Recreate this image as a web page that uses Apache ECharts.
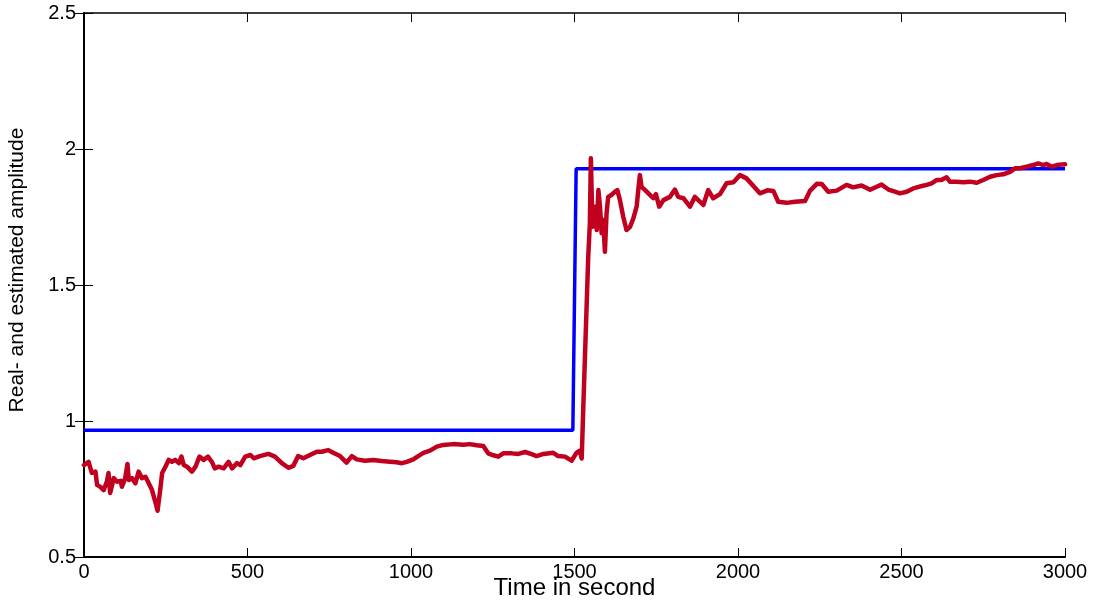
<!DOCTYPE html>
<html>
<head>
<meta charset="utf-8">
<title>Real- and estimated amplitude</title>
<script src="https://cdn.jsdelivr.net/npm/echarts@6/dist/echarts.min.js"></script>
<style>
  html, body { margin: 0; padding: 0; background: #fff; }
  #chart { width: 1098px; height: 602px; }
</style>
</head>
<body>
<div id="chart"></div>
<script>
// Axis ranges and ticks
const xTicks = [0, 500, 1000, 1500, 2000, 2500, 3000];
const yTicks = [0.5, 1, 1.5, 2, 2.5];

// Real amplitude: a step at t ≈ 1500 s
const realAmplitude = [[0, 0.966], [1495, 0.966], [1505, 1.927], [3000, 1.927]];

// Estimated amplitude [time (s), amplitude]
const estimatedAmplitude = [
  [0,0.838],[14,0.85],[24,0.809],[35,0.814],[40,0.765],[50,0.758],[60,0.746],[70,0.777],[75,0.809],[80,0.735],
  [91,0.79],[101,0.777],[112,0.78],[116,0.758],[126,0.79],[133,0.842],[137,0.783],[147,0.79],[157,0.771],[167,0.814],
  [177,0.79],[188,0.795],[198,0.771],[208,0.746],[218,0.703],[225,0.67],[233,0.746],[239,0.809],[249,0.832],[259,0.857],
  [269,0.85],[279,0.857],[290,0.845],[298,0.869],[305,0.838],[315,0.832],[330,0.814],[341,0.832],[353,0.869],[366,0.857],
  [379,0.869],[391,0.85],[400,0.826],[412,0.832],[427,0.826],[442,0.85],[453,0.826],[468,0.845],[478,0.838],[493,0.869],
  [509,0.875],[519,0.863],[538,0.871],[564,0.879],[584,0.869],[605,0.845],[625,0.828],[640,0.835],[655,0.871],[671,0.863],
  [691,0.875],[712,0.887],[727,0.887],[747,0.893],[762,0.883],[783,0.871],[803,0.847],[819,0.871],[834,0.859],[859,0.854],
  [885,0.857],[910,0.853],[936,0.85],[956,0.848],[972,0.845],[987,0.85],[1007,0.859],[1022,0.871],[1038,0.883],[1058,0.891],
  [1079,0.906],[1099,0.912],[1129,0.915],[1160,0.913],[1180,0.915],[1201,0.911],[1221,0.908],[1236,0.881],[1252,0.874],[1267,0.869],
  [1282,0.881],[1308,0.881],[1328,0.879],[1349,0.886],[1369,0.878],[1384,0.871],[1405,0.879],[1435,0.883],[1450,0.871],[1471,0.869],
  [1491,0.854],[1506,0.883],[1516,0.891],[1522,0.862],[1527,1.053],[1537,1.42],[1542,1.604],[1547,1.727],[1550,1.966],[1555,1.714],
  [1563,1.788],[1568,1.702],[1573,1.849],[1578,1.788],[1583,1.69],[1588,1.739],[1593,1.622],[1598,1.763],[1603,1.824],[1613,1.831],
  [1624,1.843],[1631,1.849],[1639,1.812],[1649,1.751],[1659,1.702],[1670,1.714],[1680,1.745],[1690,1.788],[1695,1.849],[1700,1.904],
  [1705,1.861],[1716,1.849],[1726,1.837],[1741,1.819],[1749,1.834],[1759,1.788],[1772,1.812],[1792,1.824],[1807,1.851],[1817,1.824],
  [1833,1.819],[1853,1.788],[1868,1.824],[1884,1.806],[1894,1.794],[1909,1.849],[1924,1.819],[1945,1.834],[1965,1.874],[1986,1.878],
  [2006,1.904],[2026,1.892],[2047,1.864],[2067,1.837],[2090,1.848],[2108,1.846],[2123,1.806],[2149,1.802],[2174,1.806],[2205,1.809],
  [2220,1.846],[2241,1.872],[2256,1.871],[2276,1.843],[2302,1.847],[2332,1.868],[2352,1.859],[2378,1.866],[2404,1.85],[2424,1.861],
  [2439,1.869],[2460,1.851],[2480,1.843],[2495,1.837],[2516,1.843],[2536,1.855],[2556,1.862],[2577,1.868],[2592,1.874],[2607,1.886],
  [2622,1.886],[2638,1.896],[2648,1.88],[2668,1.88],[2689,1.878],[2709,1.88],[2730,1.876],[2750,1.886],[2771,1.898],[2791,1.904],
  [2811,1.907],[2832,1.916],[2847,1.929],[2862,1.929],[2883,1.935],[2903,1.941],[2918,1.947],[2934,1.941],[2944,1.945],[2959,1.935],
  [2975,1.941],[3000,1.944]
];

const FONT = '"Liberation Sans", Arial, Helvetica, sans-serif';

const chart = echarts.init(document.getElementById('chart'), null, { renderer: 'canvas' });

const lineStyleAxis = { show: true, lineStyle: { color: '#000', width: 1.5 } };
const tickInside = { show: true, inside: true, length: 9, lineStyle: { color: '#000', width: 1 } };
const plainNumber = v => String(v);

const xMin = xTicks[0], xMax = xTicks[xTicks.length - 1];
const xStep = xTicks[1] - xTicks[0];
const yMin = yTicks[0], yMax = yTicks[yTicks.length - 1];
const yStep = yTicks[1] - yTicks[0];

chart.setOption({
  animation: false,
  backgroundColor: '#fff',
  grid: { left: 84, right: 33, top: 13, bottom: 45, containLabel: false, outerBoundsMode: 'none' },
  xAxis: [
    {
      type: 'value', position: 'bottom', min: xMin, max: xMax, interval: xStep,
      name: 'Time in second', nameLocation: 'middle', nameGap: 19, nameMoveOverlap: false,
      nameTextStyle: { fontFamily: FONT, fontSize: 24, color: '#000' },
      axisLine: { show: true, lineStyle: { color: '#000', width: 2 } },
      axisTick: tickInside,
      axisLabel: { fontFamily: FONT, fontSize: 20, color: '#000', margin: 5, formatter: plainNumber },
      splitLine: { show: false }
    },
    {
      type: 'value', position: 'top', min: xMin, max: xMax, interval: xStep,
      axisLine: lineStyleAxis, axisTick: tickInside,
      axisLabel: { show: false }, splitLine: { show: false }
    }
  ],
  yAxis: [
    {
      type: 'value', position: 'left', min: yMin, max: yMax, interval: yStep,
      name: 'Real- and estimated amplitude', nameLocation: 'middle', nameGap: 56, nameMoveOverlap: false,
      nameTextStyle: { fontFamily: FONT, fontSize: 21, color: '#000', padding: [0, 0, 0, 30] },
      axisLine: { show: true, lineStyle: { color: '#000', width: 2 } },
      axisTick: tickInside,
      axisLabel: { fontFamily: FONT, fontSize: 20, color: '#000', margin: 8, formatter: plainNumber },
      splitLine: { show: false }
    },
    {
      type: 'value', position: 'right', min: yMin, max: yMax, interval: yStep,
      axisLine: lineStyleAxis, axisTick: tickInside,
      axisLabel: { show: false }, splitLine: { show: false }
    }
  ],
  series: [
    {
      name: 'Real amplitude', type: 'line', data: realAmplitude,
      showSymbol: false, symbol: 'none',
      lineStyle: { color: '#0000ff', width: 3.5 },
      z: 2
    },
    {
      name: 'Estimated amplitude', type: 'line', data: estimatedAmplitude,
      showSymbol: false, symbol: 'none',
      lineStyle: { color: '#c0001e', width: 4.5, join: 'round', cap: 'round' },
      z: 3
    }
  ]
});
</script>
</body>
</html>
